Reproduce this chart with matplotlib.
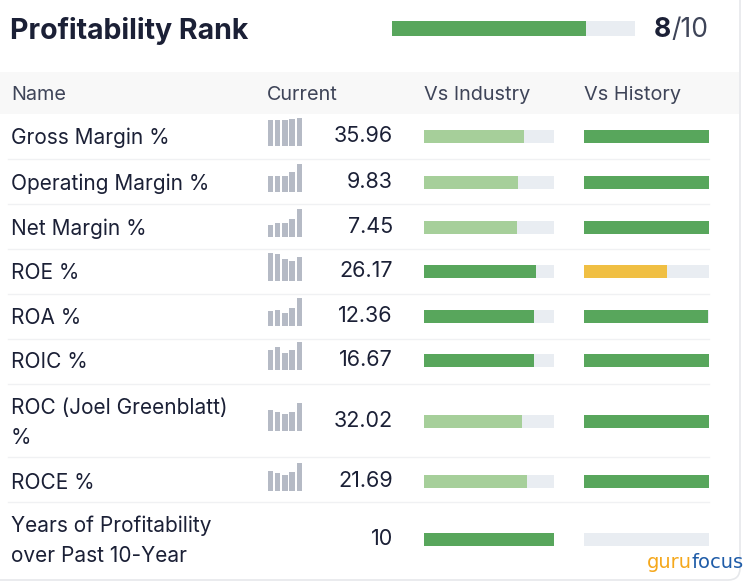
import matplotlib
matplotlib.use("Agg")
import matplotlib.pyplot as plt
from matplotlib.patches import FancyBboxPatch

plt.rcParams['font.family'] = ['Inter', 'DejaVu Sans']

# data
names = ["Gross Margin %", "Operating Margin %", "Net Margin %", "ROE %", "ROA %",
         "ROIC %", "ROC (Joel Greenblatt)\n%", "ROCE %",
         "Years of Profitability\nover Past 10-Year"]
current = ["35.96", "9.83", "7.45", "26.17", "12.36", "16.67", "32.02", "21.69", "10"]
industry = [0.77, 0.725, 0.715, 0.86, 0.845, 0.845, 0.75, 0.79, 1.0]
industry_dark = [False, False, False, True, True, True, False, False, True]
history = [1.0, 1.0, 1.0, 0.66, 0.99, 1.0, 1.0, 1.0, 0.0]
history_col = ["g", "g", "g", "y", "g", "g", "g", "g", "g"]
spark = [
    [0.92, 0.92, 0.92, 0.95, 1.0],
    [0.56, 0.57, 0.58, 0.73, 1.0],
    [0.42, 0.51, 0.49, 0.66, 1.0],
    [1.0, 0.96, 0.78, 0.70, 0.86],
    [0.53, 0.57, 0.47, 0.63, 1.0],
    [0.70, 0.81, 0.61, 0.72, 1.0],
    [0.74, 0.67, 0.59, 0.67, 1.0],
    [0.71, 0.64, 0.56, 0.68, 1.0],
    None,
]
rank = 8
rank_max = 10

row_y = [136, 182, 227, 271, 316, 360, 421, 481, 539]
seps = [159, 204, 249, 294, 339, 384, 457, 502]

dark_green = "#58a65c"
light_green = "#a6cf9a"
track = "#e9edf2"
yellow = "#f0bf43"
spark_col = "#b5bac5"
text_col = "#1b2036"
head_col = "#3e4458"

fig = plt.figure(figsize=(7.52, 5.88), dpi=100)
ax = fig.add_axes([0, 0, 1, 1])
ax.set_xlim(0, 752)
ax.set_ylim(588, 0)
ax.axis("off")

# card border
card = FancyBboxPatch((-20, -20), 760, 600, boxstyle="round,pad=0,rounding_size=12",
                      fc="white", ec="#e6e8eb", lw=1.2)
ax.add_patch(card)

# title and rank
ax.text(10, 31, "Profitability Rank", fontsize=20.5, fontweight="bold",
        color=text_col, va="center")
ax.barh(28.5, 243, left=392, height=15, color=track)
ax.barh(28.5, 243 * rank / rank_max, left=392, height=15, color=dark_green)
tail = ax.text(708, 30, "/" + str(rank_max), fontsize=19, color="#3e4458",
               va="center", ha="right")
r = fig.canvas.get_renderer()
bb = tail.get_window_extent(r)
x0 = ax.transData.inverted().transform((bb.x0, bb.y0))[0]
ax.text(x0, 30, str(rank), fontsize=19, fontweight="bold", color=text_col,
        va="center", ha="right")

# header band
ax.barh(93, 739, left=0, height=42, color="#f8f8f8")
for x, lab in [(11, "Name"), (267, "Current"), (424, "Vs Industry"), (584, "Vs History")]:
    ax.text(x, 95, lab, fontsize=14.3, color=head_col, va="center")

for i, y in enumerate(row_y):
    lines = names[i].split("\n")
    if len(lines) == 1:
        ax.text(11, y + 2, names[i], fontsize=15, color=text_col, va="center")
    else:
        ax.text(11, y - 13, lines[0], fontsize=15, color=text_col, va="center")
        ax.text(11, y + 17, lines[1], fontsize=15, color=text_col, va="center")
    ax.text(393, y, current[i], fontsize=15.5, color=text_col, va="center", ha="right")

    if spark[i] is not None:
        xs = [267.5 + k * 7.3 for k in range(5)]
        hs = [-28 * v for v in spark[i]]
        ax.bar(xs, hs, width=5.6, bottom=y + 10, align="edge", color=spark_col)

    ax.barh(y, 130, left=424, height=13, color=track)
    ax.barh(y, 130 * industry[i], left=424, height=13,
            color=dark_green if industry_dark[i] else light_green)
    ax.barh(y, 125, left=584, height=13, color=track)
    if history[i] > 0:
        ax.barh(y, 125 * history[i], left=584, height=13,
                color=yellow if history_col[i] == "y" else dark_green)

for s in seps:
    ax.plot([8, 709], [s, s], color="#f0f1f3", lw=1)

# logo
logo = ax.text(744, 563, "focus", fontsize=14, color="#1f5ca8", va="center",
               ha="right", family="DejaVu Sans")
bb = logo.get_window_extent(r)
x1 = ax.transData.inverted().transform((bb.x0, bb.y0))[0]
ax.text(x1, 563, "guru", fontsize=14, color="#f5a81c", va="center", ha="right",
        family="DejaVu Sans")

fig.savefig("out.png", dpi=100)
